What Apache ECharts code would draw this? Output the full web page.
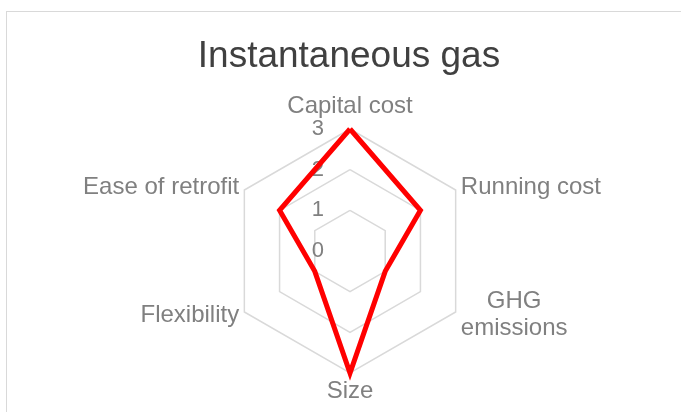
<!DOCTYPE html>
<html>
<head>
<meta charset="utf-8">
<script src="https://cdn.jsdelivr.net/npm/echarts@6/dist/echarts.min.js"></script>
<style>
  html, body { margin: 0; padding: 0; background: #fff; }
  #frame {
    position: absolute; left: 6px; top: 11px; width: 700px; height: 420px;
    border: 1px solid #d9d9d9; box-sizing: border-box;
  }
  #chart { position: absolute; left: 0; top: 0; width: 681px; height: 412px; }
</style>
</head>
<body>
<div id="frame"></div>
<div id="chart"></div>
<script>
// clockwise from the top, as in the original
const categories = ['Capital cost', 'Running cost', 'GHG\nemissions', 'Size', 'Flexibility', 'Ease of retrofit']
const values = [3, 2, 1, 3, 1, 2]
const tickLabels = ['0', '1', '2', '3']

const font = "'Liberation Sans', Arial, sans-serif"

// echarts radar runs counter-clockwise, so flip the order after the first axis
const order = [0, 5, 4, 3, 2, 1]

const chart = echarts.init(document.getElementById('chart'))

const option = {
  title: {
    text: 'Instantaneous gas',
    left: 344,
    textAlign: 'center',
    top: 33,
    textStyle: { fontFamily: font, fontSize: 37, fontWeight: 'normal', color: '#404040' }
  },
  radar: {
    center: [350, 251],
    radius: 122,
    startAngle: 90,
    splitNumber: 3,
    shape: 'polygon',
    axisName: {
      fontFamily: font,
      fontSize: 24,
      color: '#808080',
      rich: { c: { fontFamily: font, fontSize: 24, color: '#808080', align: 'center', lineHeight: 27 } },
      formatter: (name) => {
        if (name.indexOf('\n') >= 0) {
          return name.split('\n').map((s) => '{c|' + s + '}').join('\n')
        }
        return name
      }
    },
    nameGap: 6,
    splitLine: { lineStyle: { color: '#d9d9d9', width: 1.5 } },
    splitArea: { show: false },
    axisLine: { show: false },
    axisTick: { show: false },
    axisLabel: { show: false },
    indicator: order.map((k, i) => {
      const ind = { name: categories[k], min: 0, max: 3 }
      if (i === 0) {
        ind.axisLabel = {
          show: true,
          margin: 26,
          fontFamily: font,
          fontSize: 22,
          color: '#808080',
          formatter: (v) => tickLabels[Math.round(v)]
        }
      }
      return ind
    })
  },
  series: [
    {
      type: 'radar',
      symbol: 'none',
      silent: true,
      lineStyle: { color: '#ff0000', width: 5, join: 'miter' },
      data: [{ value: order.map((k) => values[k]), name: 'Instantaneous gas' }]
    }
  ]
}

chart.setOption(option)
window.addEventListener('resize', () => chart.resize())
</script>
</body>
</html>
